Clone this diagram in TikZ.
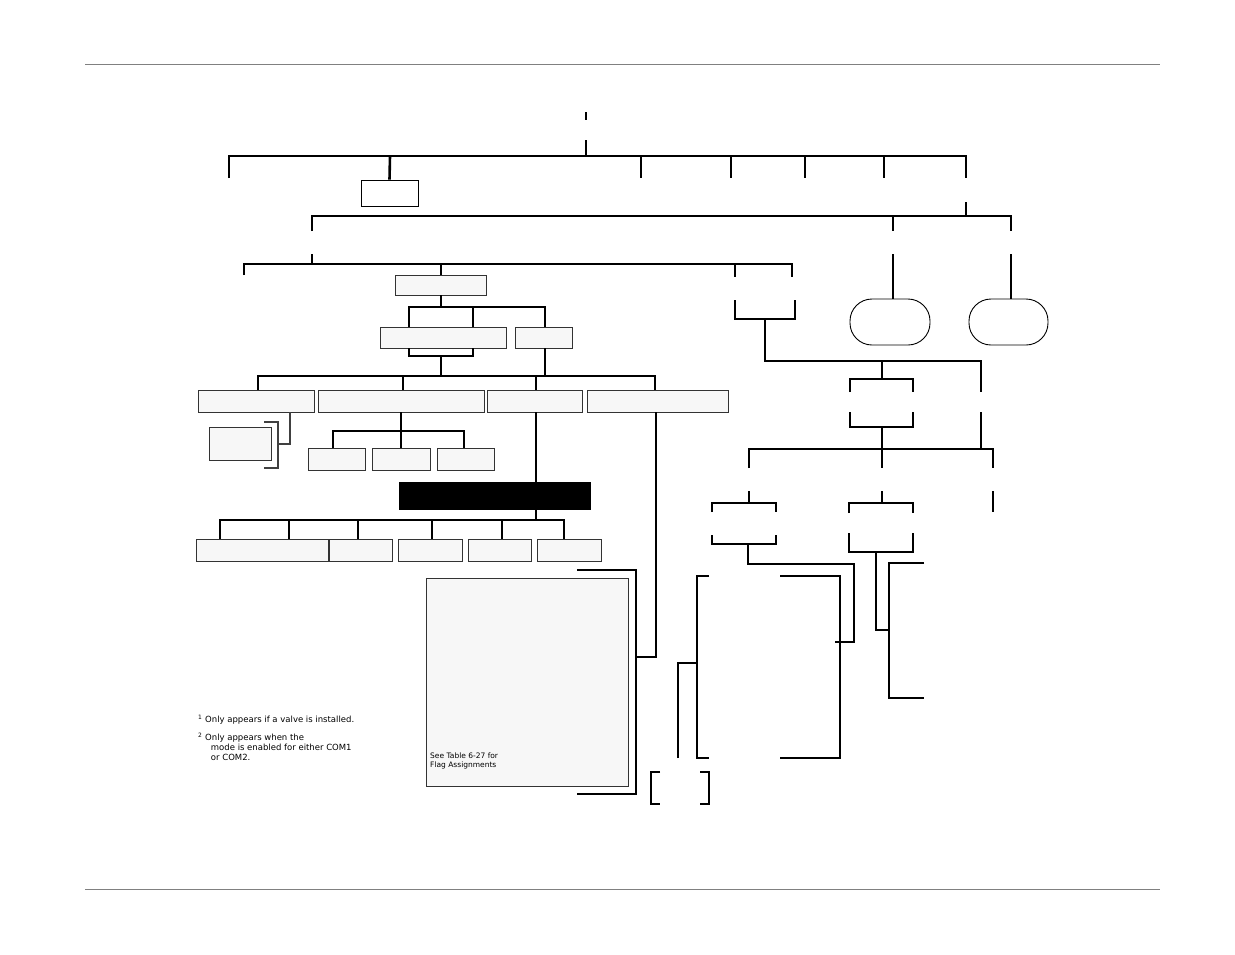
\documentclass[tikz,border=0pt]{standalone}
\usepackage{fontspec}
\setmainfont{DejaVu Sans}
\usetikzlibrary{positioning}
\begin{document}
\begin{tikzpicture}[x=1pt,y=-1pt,
    tree/.style = {line width=2.6pt},
    thin/.style = {line width=0.6pt, draw=gray},
    menubox/.style = {draw=black!80, fill=gray!6, line width=0.8pt},
    note/.style = {font=\fontsize{8.5}{10}\selectfont, anchor=north west, inner sep=0pt, align=left}]
    \useasboundingbox (0,0) rectangle (1235,954);
    \draw[thin] (85,64) -- (1160,64);
    \draw[thin] (85,889) -- (1160,889);
    % top level
    \draw[tree] (586,112) -- (586,120);
    \draw[tree] (586,140) -- (586,156);
    \draw[tree] (229,178) -- (229,156) -- (966,156) -- (966,178);
    \foreach \x in {641,731,805,884} \draw[tree] (\x,156) -- (\x,178);
    \node[draw, line width=0.8pt, minimum width=57pt, minimum height=26pt, inner sep=0pt] (setup) at (389.5,193) {};
    \draw[tree] (390,156) -- (setup.north);
    % second level
    \draw[tree] (966,202) -- (966,216);
    \draw[tree] (312,231) -- (312,216) -- (1011,216) -- (1011,231);
    \draw[tree] (893,216) -- (893,231);
    % third level
    \draw[tree] (312,254) -- (312,264);
    \draw[tree] (244,275) -- (244,264) -- (792,264) -- (792,277);
    \draw[tree] (735,264) -- (735,277);
    \draw[menubox] (395,275) rectangle (486,295) coordinate (A);
    \draw[tree] (441,264) -- (441,275);
    \draw[tree] (441,295) -- (441,307);
    \draw[tree] (409,327) -- (409,307) -- (545,307) -- (545,327);
    \draw[tree] (473,307) -- (473,327);
    \draw[menubox] (380,327) rectangle (506,348);
    \draw[menubox] (515,327) rectangle (572,348);
    \draw[tree] (409,348) -- (409,356) -- (473,356) -- (473,348);
    \draw[tree] (441,356) -- (441,376);
    \draw[tree] (545,348) -- (545,376);
    \draw[tree] (258,390) -- (258,376) -- (655,376) -- (655,390);
    \foreach \x in {403,536} \draw[tree] (\x,376) -- (\x,390);
    \draw[menubox] (198,390) rectangle (314,412);
    \draw[menubox] (318,390) rectangle (484,412);
    \draw[menubox] (487,390) rectangle (582,412);
    \draw[menubox] (587,390) rectangle (728,412);
    % under first box
    \draw[line width=2pt, draw=black!75] (290,412) -- (290,444) -- (278,444);
    \draw[line width=2pt, draw=black!75] (264,422) -- (278,422) -- (278,468) -- (264,468);
    \draw[menubox] (209,427) rectangle (271,460);
    % under second box
    \draw[tree] (401,412) -- (401,431);
    \draw[tree] (333,448) -- (333,431) -- (464,431) -- (464,448);
    \draw[tree] (401,431) -- (401,448);
    \foreach \a/\b in {308/365,372/430,437/494} \draw[menubox] (\a,448) rectangle (\b,470);
    % under third box
    \draw[tree] (536,412) -- (536,482);
    \node[fill=black, minimum width=192pt, minimum height=28pt, inner sep=0pt] (dark) at (495,496) {};
    \draw[tree] (536,510) -- (536,520);
    \draw[tree] (220,539) -- (220,520) -- (564,520) -- (564,539);
    \foreach \x in {289,358,432,502} \draw[tree] (\x,520) -- (\x,539);
    \foreach \a/\b in {196/328,329/392,398/462,468/531,537/601} \draw[menubox] (\a,539) rectangle (\b,561);
    % flag box
    \draw[menubox] (426,578) rectangle (628,786);
    \node[note, font=\fontsize{7.5}{9}\selectfont] (flags) at (430,753) {See Table 6-27 for\\Flag Assignments};
    \draw[tree] (577,570) -- (636,570) -- (636,794) -- (577,794);
    \draw[tree] (656,412) -- (656,657) -- (636,657);
    % right branch
    \draw[tree] (735,300) -- (735,319) -- (795,319) -- (795,300);
    \draw[tree] (765,319) -- (765,361) -- (981,361) -- (981,392);
    \draw[tree] (882,361) -- (882,379);
    \draw[tree] (850,392) -- (850,379) -- (913,379) -- (913,392);
    \draw[tree] (850,412) -- (850,427) -- (913,427) -- (913,412);
    \draw[tree] (882,427) -- (882,449);
    \draw[tree] (981,412) -- (981,449);
    \draw[tree] (749,468) -- (749,449) -- (993,449) -- (993,468);
    \draw[tree] (882,449) -- (882,468);
    % ovals
    \draw[tree] (893,254) -- (893,299);
    \draw[tree] (1011,254) -- (1011,299);
    \draw[line width=0.9pt, rounded corners=22pt] (850,299) rectangle (930,345);
    \draw[line width=0.9pt, rounded corners=22pt] (969,299) rectangle (1048,345);
    % lower right
    \draw[tree] (749,491) -- (749,503);
    \draw[tree] (712,512) -- (712,503) -- (776,503) -- (776,512);
    \draw[tree] (712,535) -- (712,544) -- (776,544) -- (776,535);
    \draw[tree] (882,491) -- (882,503);
    \draw[tree] (849,513) -- (849,503) -- (913,503) -- (913,513);
    \draw[tree] (849,533) -- (849,552) -- (913,552) -- (913,533);
    \draw[tree] (993,491) -- (993,512);
    \draw[tree] (748,544) -- (748,564) -- (854,564) -- (854,642) -- (835,642);
    \draw[tree] (876,552) -- (876,630) -- (889,630);
    \draw[tree] (924,563) -- (889,563) -- (889,698) -- (924,698);
    \draw[tree] (780,576) -- (840,576) -- (840,758) -- (780,758);
    \draw[tree] (709,576) -- (697,576) -- (697,758) -- (709,758);
    \draw[tree] (678,758) -- (678,663) -- (697,663);
    \draw[tree] (660,772) -- (651,772) -- (651,804) -- (660,804);
    \draw[tree] (700,772) -- (709,772) -- (709,804) -- (700,804);
    % footnotes
    \node[note] (fn1) at (198,715) {\textsuperscript{1} Only appears if a valve is installed.};
    \node[note] (fn2) at (198,733) {\textsuperscript{2} Only appears when the\\\hspace*{1.5em}mode is enabled for either COM1\\\hspace*{1.5em}or COM2.};
\end{tikzpicture}
\end{document}
